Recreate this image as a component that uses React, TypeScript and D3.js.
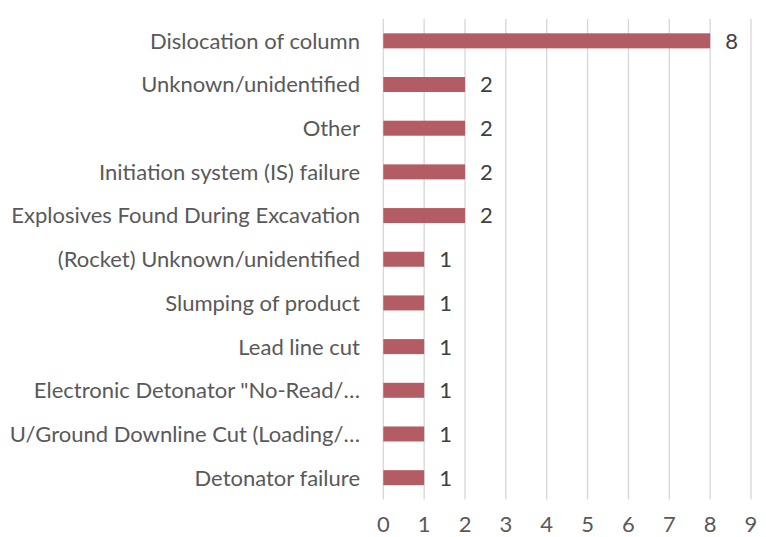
import React from "react";
import * as d3 from "d3";

const categories = [
  "Dislocation of column",
  "Unknown/unidentified",
  "Other",
  "Initiation system (IS) failure",
  "Explosives Found During Excavation",
  "(Rocket) Unknown/unidentified",
  "Slumping of product",
  "Lead line cut",
  'Electronic Detonator "No-Read/…',
  "U/Ground Downline Cut (Loading/…",
  "Detonator failure",
];
const values = [8, 2, 2, 2, 2, 1, 1, 1, 1, 1, 1];
const xTicks = [0, 1, 2, 3, 4, 5, 6, 7, 8, 9];

const W = 766;
const H = 537;
const FONT = "Lato, 'Open Sans', sans-serif";
const FS = 22;

export default function App() {
  const x = d3.scaleLinear().domain([0, 9]).range([383.3, 751]);
  const y = d3.scaleBand<string>().domain(categories).range([19, 499.5]).padding(0);
  const bw = y.bandwidth();
  const barH = 15;
  return (
    <svg
      width={W}
      height={H}
      style={{ position: "absolute", left: 0, top: 0, background: "#fff" }}
    >
      {xTicks.map((t) => (
        <line
          key={"g" + t}
          x1={x(t)}
          x2={x(t)}
          y1={19}
          y2={499.5}
          stroke="#d9d9d9"
          strokeWidth={1.4}
        />
      ))}
      {categories.map((c, i) => (
        <g key={c}>
          <rect
            x={x(0)}
            y={(y(c) as number) + (bw - barH) / 2}
            width={x(values[i]) - x(0)}
            height={barH}
            fill="#b35c63"
          />
          <text
            x={x(values[i]) + 15}
            y={(y(c) as number) + bw / 2}
            dy="0.36em"
            fontFamily={FONT}
            fontSize={FS}
            fill="#404040"
          >
            {values[i]}
          </text>
          <text
            x={360}
            y={(y(c) as number) + bw / 2}
            dy="0.36em"
            textAnchor="end"
            fontFamily={FONT}
            fontSize={FS}
            fill="#595959"
          >
            {c}
          </text>
        </g>
      ))}
      {xTicks.map((t) => (
        <text
          key={"t" + t}
          x={x(t)}
          y={532}
          textAnchor="middle"
          fontFamily={FONT}
          fontSize={FS}
          fill="#595959"
        >
          {t}
        </text>
      ))}
    </svg>
  );
}
